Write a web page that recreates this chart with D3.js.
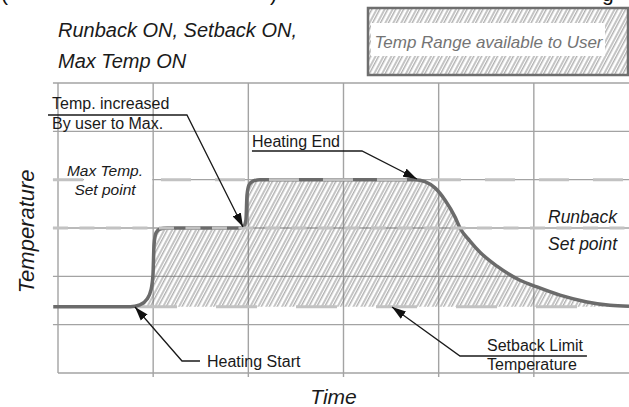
<!DOCTYPE html>
<html>
<head>
<meta charset="utf-8">
<script src="https://cdn.jsdelivr.net/npm/d3@7/dist/d3.min.js"></script>
<style>
  html, body { margin: 0; padding: 0; background: #fff; }
  svg { display: block; }
  text { font-family: "Liberation Sans", Arial, sans-serif; }
</style>
</head>
<body>
<svg id="chart" width="629" height="407"></svg>
<script>
// Grid divisions (time and temperature in grid units)
const timeTicks = [0, 1, 2, 3, 4, 5];
const tempTicks = [0, 1, 2, 3, 4, 5, 6];

// Set points
const maxTempSetpoint = 4;
const runbackSetpoint = 3;
const setbackLimit = 1.37;

// Heating cycle temperature profile
const curveTime = [-0.05, 0.76, 0.86, 0.935, 0.977, 0.998, 1.009, 1.03, 1.072, 1.145,
  1.912, 1.954, 1.975, 1.986, 2.007, 2.049, 2.123, 3.751, 3.856, 3.961, 4.066, 4.171,
  4.224, 4.329, 4.434, 4.613, 4.854, 5.033, 5.275, 5.558, 5.8, 6.0];
const curveTemp = [1.37, 1.37, 1.41, 1.53, 1.72, 2.03, 2.65, 2.9, 2.98, 3.0,
  3.0, 3.04, 3.17, 3.68, 3.89, 3.97, 4.0, 4.0, 3.96, 3.83, 3.58, 3.23,
  3.0, 2.73, 2.5, 2.21, 1.92, 1.78, 1.61, 1.47, 1.4, 1.38];

// Callout anchor points [time, temp]
const calloutIncreased = [[-0.105, 5.338], [1.355, 5.338], [1.944, 3.021]];
const calloutEnd = [[2.038, 4.593], [3.194, 4.593], [3.772, 4.014]];
const calloutStart = [[1.492, 0.248], [1.303, 0.248], [0.809, 1.366]];
const calloutSetback = [[5.558, 0.352], [4.224, 0.352], [3.51, 1.366]];

const svg = d3.select("#chart");
const x = d3.scaleLinear().domain([0, 6]).range([58, 629]);
const y = d3.scaleLinear().domain([0, 6]).range([373, 83]);

const gridColor = "#a3a3a3";
const dashColor = "#c2c2c2";
const curveColor = "#6b6b6b";

// Patterns and markers
const defs = svg.append("defs");
const hatch = defs.append("pattern").attr("id", "hatch")
  .attr("patternUnits", "userSpaceOnUse").attr("width", 7).attr("height", 10)
  .attr("patternTransform", "rotate(28)");
[1, 3.8].forEach(px => {
  hatch.append("line").attr("x1", px).attr("x2", px).attr("y1", -1).attr("y2", 11)
    .attr("stroke", "#6f6f6f").attr("stroke-width", 0.8);
});

defs.append("marker").attr("id", "arrow")
  .attr("viewBox", "0 -5 14 10").attr("refX", 14).attr("refY", 0)
  .attr("markerWidth", 14).attr("markerHeight", 10)
  .attr("markerUnits", "userSpaceOnUse").attr("orient", "auto")
  .append("path").attr("d", "M0,-4.5L14,0L0,4.5Z").attr("fill", "#111");

// Cut-off heading glyphs along the top edge
const headTop = svg.append("g").attr("font-size", 21).attr("fill", "#111");
headTop.append("text").attr("x", 1).attr("y", 1).text("(");
headTop.append("text").attr("x", 270).attr("y", 1).text(")");
headTop.append("text").attr("x", 602).attr("y", 1).text("g");

// Subtitle
const sub = svg.append("g").attr("font-size", 20).attr("font-style", "italic").attr("fill", "#1a1a1a");
sub.append("text").attr("x", 58).attr("y", 37).text("Runback ON, Setback ON,");
sub.append("text").attr("x", 58).attr("y", 68).text("Max Temp ON");

// Legend box
svg.append("rect").attr("x", 368).attr("y", 8).attr("width", 260).attr("height", 67)
  .attr("fill", "url(#hatch)").attr("stroke", "#6e6e6e").attr("stroke-width", 2.5);
svg.append("rect").attr("x", 371).attr("y", 23).attr("width", 234).attr("height", 33)
  .attr("fill", "#fff");
svg.append("text").attr("x", 488.5).attr("y", 48).attr("text-anchor", "middle")
  .attr("font-size", 17).attr("font-style", "italic").attr("fill", "#747474")
  .text("Temp Range available to User");

// Grid
const grid = svg.append("g").attr("stroke", gridColor).attr("stroke-width", 1.4);
grid.selectAll("line.h").data(tempTicks).join("line").attr("class", "h")
  .attr("x1", d => d === 0 ? x(0) : x(-0.053)).attr("x2", x(6))
  .attr("y1", d => y(d)).attr("y2", d => y(d));
grid.selectAll("line.v").data(timeTicks).join("line").attr("class", "v")
  .attr("x1", d => x(d)).attr("x2", d => x(d))
  .attr("y1", y(6)).attr("y2", d => d === 0 ? y(0) : y(0) + 4);

// Area available to the user
const area = d3.area().x((d, i) => x(curveTime[i])).y0(y(setbackLimit))
  .y1((d, i) => y(curveTemp[i])).curve(d3.curveMonotoneX);
svg.append("path").datum(curveTime).attr("d", area).attr("fill", "url(#hatch)");

// Setback limit dashed line
svg.append("line").attr("x1", x(0.82)).attr("x2", x(5.455))
  .attr("y1", y(setbackLimit)).attr("y2", y(setbackLimit))
  .attr("stroke", dashColor).attr("stroke-width", 3).attr("stroke-dasharray", "41,39");

// Temperature curve
const line = d3.line().x((d, i) => x(curveTime[i])).y((d, i) => y(curveTemp[i]))
  .curve(d3.curveMonotoneX);
svg.append("path").datum(curveTime).attr("d", line).attr("fill", "none")
  .attr("stroke", curveColor).attr("stroke-width", 3.5).attr("stroke-linejoin", "round");

// Max temp and runback set point lines
svg.append("line").attr("x1", x(-0.053)).attr("x2", x(6))
  .attr("y1", y(maxTempSetpoint)).attr("y2", y(maxTempSetpoint))
  .attr("stroke", dashColor).attr("stroke-width", 3).attr("stroke-dasharray", "30,24");
svg.append("line").attr("x1", x(-0.053)).attr("x2", x(6))
  .attr("y1", y(runbackSetpoint)).attr("y2", y(runbackSetpoint))
  .attr("stroke", dashColor).attr("stroke-width", 3).attr("stroke-dasharray", "15,11.5");

// Clear space next to the max temp label
svg.append("rect").attr("x", x(0.273)).attr("width", x(1.0) - x(0.273) - 1)
  .attr("y", y(maxTempSetpoint) - 4).attr("height", 9).attr("fill", "#fff");

// Set point labels
const spl = svg.append("g").attr("font-style", "italic").attr("fill", "#1a1a1a");
spl.append("text").attr("x", x(0.494)).attr("y", y(4.076)).attr("text-anchor", "middle")
  .attr("font-size", 15.5).text("Max Temp.");
spl.append("text").attr("x", x(0.494)).attr("y", y(3.683)).attr("text-anchor", "middle")
  .attr("font-size", 15.5).text("Set point");
spl.append("text").attr("x", x(5.149)).attr("y", y(3.104)).attr("font-size", 17.5).text("Runback");
spl.append("text").attr("x", x(5.149)).attr("y", y(2.545)).attr("font-size", 17.5).text("Set point");

// Callouts
const pline = d3.line().x(d => x(d[0])).y(d => y(d[1]));
[calloutIncreased, calloutEnd, calloutStart, calloutSetback].forEach(pts => {
  svg.append("path").attr("d", pline(pts)).attr("fill", "none")
    .attr("stroke", "#1a1a1a").attr("stroke-width", 1.3)
    .attr("marker-end", "url(#arrow)");
});

const notes = svg.append("g").attr("font-size", 16).attr("fill", "#1a1a1a");
notes.append("text").attr("x", x(-0.063)).attr("y", y(5.462)).text("Temp. increased");
notes.append("text").attr("x", x(-0.063)).attr("y", y(5.049)).text("By user to Max.");
notes.append("text").attr("x", x(2.038)).attr("y", y(4.676)).text("Heating End");
notes.append("text").attr("x", x(1.566)).attr("y", y(0.124)).text("Heating Start");
notes.append("text").attr("x", x(4.508)).attr("y", y(0.455)).text("Setback Limit");
notes.append("text").attr("x", x(4.508)).attr("y", y(0.062)).text("Temperature");

// Axis titles
svg.append("text").attr("transform", `translate(34,${y(2.93)}) rotate(-90)`)
  .attr("text-anchor", "middle").attr("font-size", 22).attr("font-style", "italic")
  .attr("fill", "#1a1a1a").text("Temperature");
svg.append("text").attr("x", 333.5).attr("y", 404).attr("text-anchor", "middle")
  .attr("font-size", 21).attr("font-style", "italic").attr("fill", "#1a1a1a").text("Time");
</script>
</body>
</html>
